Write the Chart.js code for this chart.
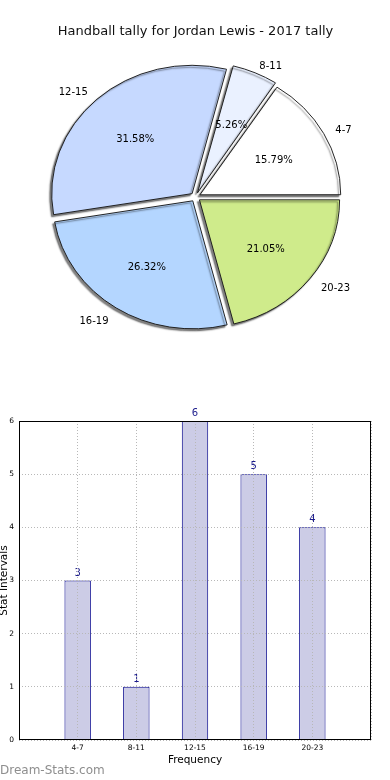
<!DOCTYPE html>
<html>
<head>
<meta charset="utf-8">
<script src="https://cdn.jsdelivr.net/npm/chart.js@4.4.1/dist/chart.umd.min.js"></script>
<style>
  html, body { margin:0; padding:0; background:#fff; width:390px; height:780px; overflow:hidden; position:relative; }
  #pieBox { position:absolute; left:0; top:0; width:390px; height:380px; }
  #barBox { position:absolute; left:-2px; top:380px; width:392px; height:400px; }
  #wm { position:absolute; left:0; top:763px; font:12px 'DejaVu Sans', sans-serif; color:#8e8e8e; white-space:nowrap; }
</style>
</head>
<body>
<div id="pieBox"><canvas id="pie"></canvas></div>
<div id="barBox"><canvas id="bar"></canvas></div>
<div id="wm">Dream-Stats.com</div>
<script>
// ---- data ----
const chartTitle = 'Handball tally for Jordan Lewis - 2017 tally';
const categories = ['4-7', '8-11', '12-15', '16-19', '20-23'];
const counts = [3, 1, 6, 5, 4];
const sliceColors = ['#ffffff', '#eaf1ff', '#c6d9ff', '#b4d6ff', '#cfeb8b'];
const yTicks = [0, 1, 2, 3, 4, 5, 6];
const xAxisTitle = 'Frequency';
const yAxisTitle = 'Stat Intervals';

Chart.defaults.font.family = "'DejaVu Sans', sans-serif";
Chart.defaults.color = '#000';

// ---- pie ----
const squash = 0.914;   // vertical/horizontal radius ratio of the reference pie
const total = counts.reduce((a, b) => a + b, 0);

const pieStyle = {
  id: 'pieStyle',
  beforeDatasetDraw(chart) {
    const a = chart.getDatasetMeta(0).data[0];
    const ctx = chart.ctx;
    ctx.save();
    ctx.translate(a.x, a.y);
    ctx.scale(1, squash);
    ctx.translate(-a.x, -a.y);
    ctx.shadowColor = 'rgba(0,0,0,0.5)';
    ctx.shadowBlur = 1.5;
    ctx.shadowOffsetX = -2;
    ctx.shadowOffsetY = 2;
  },
  afterDatasetDraw(chart) {
    chart.ctx.restore();
  },
  afterDatasetsDraw(chart) {
    const ctx = chart.ctx;
    const meta = chart.getDatasetMeta(0);
    const ds = chart.data.datasets[0];
    const dy = 2.5; // glyph-centre correction
    ctx.save();
    ctx.font = "10px 'DejaVu Sans'";
    ctx.fillStyle = '#000';
    ctx.textBaseline = 'middle';
    meta.data.forEach((arc, i) => {
      const mid = (arc.startAngle + arc.endAngle) / 2;
      const off = (arc.options.offset || 0) / 4;
      const r = arc.outerRadius;
      const c = Math.cos(mid), s = Math.sin(mid);
      const lr = off + 1.1 * r;
      const lx = arc.x + lr * c, ly = arc.y + lr * s * squash + dy;
      ctx.textAlign = c > 0 ? 'left' : 'right';
      ctx.fillText(chart.data.labels[i], lx, ly);
      const pr = off + 0.6 * r;
      const px = arc.x + pr * c, py = arc.y + pr * s * squash + dy;
      ctx.textAlign = 'center';
      ctx.fillText((ds.data[i] / total * 100).toFixed(2) + '%', px, py);
    });
    ctx.restore();
  }
};

new Chart(document.getElementById('pie'), {
  type: 'pie',
  data: {
    labels: categories.slice().reverse(),
    datasets: [{
      data: counts.slice().reverse(),
      backgroundColor: sliceColors.slice().reverse(),
      borderColor: '#1a1a1a',
      borderWidth: 1,
      offset: 20
    }]
  },
  options: {
    responsive: true,
    maintainAspectRatio: false,
    animation: false,
    rotation: 90,
    radius: 140,
    layout: { padding: { left: 1, right: 0, top: 0, bottom: 33.6 } },
    events: [],
    plugins: {
      legend: { display: false },
      tooltip: { enabled: false },
      title: {
        display: true,
        text: chartTitle,
        color: '#111',
        font: { size: 13, weight: 'normal' },
        padding: { top: 23.5, bottom: 8.5 }
      }
    }
  },
  plugins: [pieStyle]
});

// ---- bar ----
const barExtras = {
  id: 'barExtras',
  afterDatasetsDraw(chart) {
    const ctx = chart.ctx;
    const meta = chart.getDatasetMeta(0);
    ctx.save();
    ctx.font = "10px 'DejaVu Sans'";
    ctx.fillStyle = '#1c1c8c';
    ctx.textAlign = 'center';
    ctx.textBaseline = 'alphabetic';
    meta.data.forEach((bar, i) => {
      ctx.fillText(String(counts[i]), bar.x, bar.y - 5);
    });
    ctx.restore();
  },
  afterDraw(chart) {
    const a = chart.chartArea;
    const ctx = chart.ctx;
    ctx.save();
    ctx.strokeStyle = '#000';
    ctx.lineWidth = 1;
    ctx.strokeRect(Math.round(a.left) + 0.5, Math.round(a.top) + 0.5,
                   Math.round(a.right - a.left) - 1, Math.round(a.bottom - a.top) - 1);
    ctx.restore();
  }
};

new Chart(document.getElementById('bar'), {
  type: 'bar',
  data: {
    datasets: [{
      data: categories.map((c, i) => ({ x: i, y: counts[i] })),
      backgroundColor: '#cccce6',
      borderColor: '#00008b',
      borderWidth: 1,
      barPercentage: 0.45,
      categoryPercentage: 1
    }]
  },
  options: {
    responsive: true,
    maintainAspectRatio: false,
    animation: false,
    events: [],
    layout: { padding: { left: 0, right: 19, top: 41, bottom: 0 } },
    plugins: { legend: { display: false }, tooltip: { enabled: false } },
    scales: {
      x: {
        type: 'linear',
        min: -1,
        max: categories.length,
        offset: false,
        afterFit(s) { s.height = 40; },
        afterBuildTicks(s) {
          s.ticks = [];
          for (let v = -1; v <= categories.length; v++) s.ticks.push({ value: v });
        },
        ticks: {
          autoSkip: false,
          maxRotation: 0,
          padding: 4,
          font: { size: 7.5 },
          color: '#000',
          callback: (v) => categories[v] !== undefined ? categories[v] : ''
        },
        grid: { offset: false, color: '#b8b8b8', lineWidth: 1, drawTicks: false, z: 1 },
        border: { display: false, dash: [1, 2] },
        title: {
          display: true, text: xAxisTitle, color: '#000',
          font: { size: 10.5 }, padding: { top: 0, bottom: 13.7 }
        }
      },
      y: {
        min: yTicks[0],
        max: yTicks[yTicks.length - 1],
        afterFit(s) { s.width = 21; },
        afterBuildTicks(s) { s.ticks = yTicks.map(v => ({ value: v })); },
        ticks: { padding: 5, font: { size: 7.5 }, color: '#000' },
        grid: { color: '#b8b8b8', lineWidth: 1, drawTicks: false, z: 1 },
        border: { display: false, dash: [1, 2] },
        title: {
          display: true, text: yAxisTitle, color: '#000',
          font: { size: 10.5 }, padding: { top: 0, bottom: 0 }
        }
      }
    }
  },
  plugins: [barExtras]
});
</script>
</body>
</html>
